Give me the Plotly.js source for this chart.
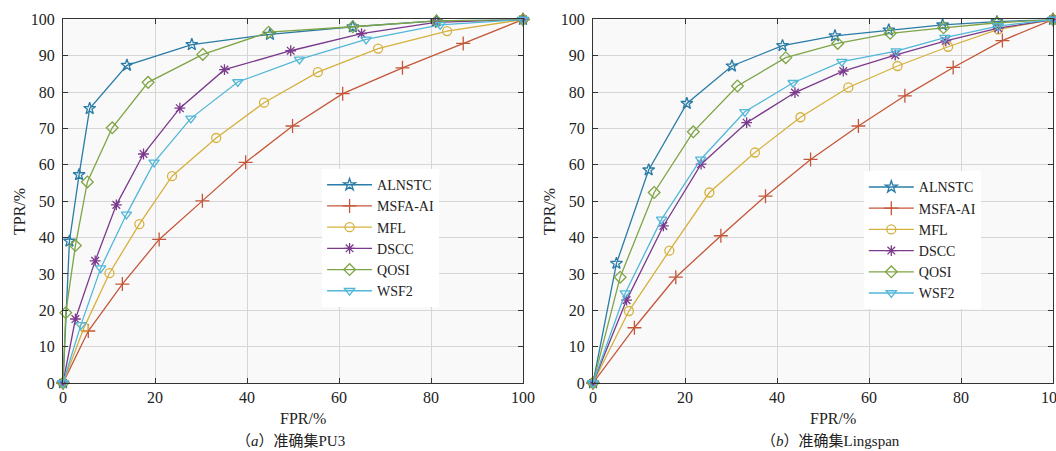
<!DOCTYPE html>
<html>
<head>
<meta charset="utf-8">
<script src="https://cdn.plot.ly/plotly-3.0.1.min.js"></script>
<style>html,body{margin:0;padding:0;background:#fff}#chart{width:1056px;height:451px}</style>
</head>
<body>
<div id="chart"></div>
<script>
// ---- data ----
const seriesNames = ['ALNSTC', 'MSFA-AI', 'MFL', 'DSCC', 'QOSI', 'WSF2'];
const panelCaptions = ['（<i>a</i>）准确集PU3', '（<i>b</i>）准确集Lingspan'];
const xTitle = 'FPR/%';
const yTitle = 'TPR/%';
const tickVals = [0, 20, 40, 60, 80, 100];
const yTickVals = [0, 10, 20, 30, 40, 50, 60, 70, 80, 90, 100];

// (a) PU3
const pu3_ALNSTC_fpr = [0, 1.4, 3.5, 5.8, 13.9, 28, 45, 63, 81.2, 100];
const pu3_ALNSTC_tpr = [0, 39, 57.3, 75.5, 87.4, 93.1, 95.9, 98, 99.6, 100];
const pu3_MSFA_fpr = [0, 5.5, 12.9, 20.9, 30.3, 39.7, 49.9, 60.8, 73.8, 87, 100];
const pu3_MSFA_tpr = [0, 14.3, 27.2, 39.5, 50.1, 60.7, 70.7, 79.6, 86.7, 93.4, 100];
const pu3_MFL_fpr = [0, 4.6, 10.1, 16.6, 23.7, 33.3, 43.7, 55.4, 68.5, 83.5, 100];
const pu3_MFL_tpr = [0, 15.3, 30.2, 43.7, 56.9, 67.4, 77.1, 85.5, 92, 96.8, 100];
const pu3_DSCC_fpr = [0, 2.7, 7.0, 11.6, 17.5, 25.4, 35.1, 49.5, 64.9, 81, 100];
const pu3_DSCC_tpr = [0, 17.6, 33.6, 49, 63, 75.6, 86.2, 91.4, 96.1, 99.2, 100];
const pu3_QOSI_fpr = [0, 0.6, 2.7, 5.3, 10.7, 18.5, 30.4, 44.7, 63, 81.2, 100];
const pu3_QOSI_tpr = [0, 19.3, 37.8, 55.3, 70.2, 82.7, 90.4, 96.5, 98, 99.6, 100];
const pu3_WSF2_fpr = [0, 3.9, 8.2, 13.8, 19.8, 27.8, 38, 51.4, 65.9, 82, 100];
const pu3_WSF2_tpr = [0, 16, 31.6, 46.4, 60.7, 72.8, 82.8, 89, 94.5, 98.5, 100];

// (b) Lingspan
const ling_ALNSTC_fpr = [0, 5.1, 12.1, 20.4, 30.2, 41.2, 52.6, 64.3, 76, 87.8, 100];
const ling_ALNSTC_tpr = [0, 32.9, 58.6, 76.9, 87.2, 92.8, 95.5, 97.1, 98.5, 99.4, 100];
const ling_MSFA_fpr = [0, 9, 18, 27.8, 37.5, 47.3, 57.7, 67.8, 78.3, 89, 100];
const ling_MSFA_tpr = [0, 15.2, 29.1, 40.5, 51.4, 61.5, 70.7, 79, 86.8, 94.2, 100];
const ling_MFL_fpr = [0, 7.8, 16.6, 25.3, 35.2, 45.1, 55.5, 66.2, 77.2, 88.1, 100];
const ling_MFL_tpr = [0, 19.8, 36.4, 52.4, 63.4, 73.1, 81.3, 87.2, 92.5, 97.3, 100];
const ling_DSCC_fpr = [0, 7.3, 15.3, 23.5, 33.4, 43.9, 54.4, 65.7, 76.7, 88.1, 100];
const ling_DSCC_tpr = [0, 22.8, 43.2, 60.2, 71.6, 79.9, 85.8, 90.2, 94.1, 97.6, 100];
const ling_QOSI_fpr = [0, 5.9, 13.3, 21.8, 31.4, 41.9, 53.2, 64.6, 76.2, 87.9, 100];
const ling_QOSI_tpr = [0, 29.1, 52.4, 69.1, 81.7, 89.5, 93.4, 96.2, 97.7, 99.1, 100];
const ling_WSF2_fpr = [0, 7, 14.9, 23.4, 33, 43.5, 54.1, 65.9, 76.5, 88.1, 100];
const ling_WSF2_tpr = [0, 24.7, 45, 61.5, 74.6, 82.6, 88.4, 91.3, 95, 98.2, 100];

// ---- styles ----
const colors = ['#2a7ca6', '#c4573a', '#d6b13e', '#7b3a8c', '#7fa445', '#52b7d8'];
const symbols = ['star-open', 'cross-thin-open', 'circle-open', 'asterisk-open', 'diamond-open', 'triangle-down-open'];
const sizes = [9, 10, 9, 9, 9, 9];

const pu3 = [[pu3_ALNSTC_fpr, pu3_ALNSTC_tpr], [pu3_MSFA_fpr, pu3_MSFA_tpr], [pu3_MFL_fpr, pu3_MFL_tpr],
             [pu3_DSCC_fpr, pu3_DSCC_tpr], [pu3_QOSI_fpr, pu3_QOSI_tpr], [pu3_WSF2_fpr, pu3_WSF2_tpr]];
const ling = [[ling_ALNSTC_fpr, ling_ALNSTC_tpr], [ling_MSFA_fpr, ling_MSFA_tpr], [ling_MFL_fpr, ling_MFL_tpr],
              [ling_DSCC_fpr, ling_DSCC_tpr], [ling_QOSI_fpr, ling_QOSI_tpr], [ling_WSF2_fpr, ling_WSF2_tpr]];

const traces = [];
[pu3, ling].forEach((panel, p) => {
  panel.forEach((xy, i) => {
    traces.push({
      type: 'scatter', mode: 'lines+markers',
      x: xy[0], y: xy[1], name: seriesNames[i],
      xaxis: p === 0 ? 'x' : 'x2', yaxis: p === 0 ? 'y' : 'y2',
      legend: p === 0 ? 'legend' : 'legend2',
      line: {color: colors[i], width: 1.3},
      marker: {symbol: symbols[i], size: sizes[i], color: colors[i], line: {color: colors[i], width: 1.3}},
      cliponaxis: false
    });
  });
});

const serif = '"Liberation Serif", "Times New Roman", serif';
const cjk = '"Liberation Serif", "Noto Sans CJK SC", serif';
const tickFont = {family: serif, size: 16, color: '#222'};

function xax(domain) {
  return {domain: domain, range: [0, 100], tickvals: tickVals, showgrid: true, gridcolor: '#d6d6d6',
    zeroline: false, showline: true, linecolor: '#333', linewidth: 1, mirror: 'ticks',
    ticks: 'inside', ticklen: 5, tickcolor: '#333', tickfont: tickFont, ticklabeloverflow: 'allow',
    fixedrange: true};
}
function yax(anchor) {
  return {domain: [0.1508, 0.9568], anchor: anchor, range: [0, 100], tickvals: yTickVals, showgrid: true,
    gridcolor: '#d6d6d6', zeroline: false, showline: true, linecolor: '#333', linewidth: 1, mirror: 'ticks',
    ticks: 'inside', ticklen: 5, tickcolor: '#333', tickfont: tickFont, ticklabelstandoff: 4,
    ticklabeloverflow: 'allow', fixedrange: true};
}

const legendCommon = {font: {family: serif, size: 14, color: '#222'}, bgcolor: '#ffffff', borderwidth: 0,
  itemwidth: 45, xanchor: 'left', yanchor: 'top', tracegroupgap: 0};

const annFont = {family: serif, size: 16, color: '#222'};
const layout = {
  width: 1056, height: 451,
  margin: {l: 0, r: 0, t: 0, b: 0},
  paper_bgcolor: '#ffffff', plot_bgcolor: '#f9f9f9',
  showlegend: true,
  xaxis: Object.assign(xax([63 / 1056, 523 / 1056]), {anchor: 'y'}),
  yaxis: yax('x'),
  xaxis2: Object.assign(xax([593 / 1056, 1053 / 1056]), {anchor: 'y2'}),
  yaxis2: yax('x2'),
  legend: Object.assign({x: 0.305, y: 0.625}, legendCommon),
  legend2: Object.assign({x: 0.818, y: 0.62}, legendCommon),
  annotations: [
    {text: xTitle, xref: 'paper', yref: 'paper', x: 303 / 1056, y: 1 - 418 / 451, yanchor: 'middle',
     xanchor: 'center', showarrow: false, font: annFont},
    {text: xTitle, xref: 'paper', yref: 'paper', x: 833 / 1056, y: 1 - 418 / 451, yanchor: 'middle',
     xanchor: 'center', showarrow: false, font: annFont},
    {text: yTitle, xref: 'paper', yref: 'paper', x: 19 / 1056, y: 1 - 212 / 451, yanchor: 'middle',
     xanchor: 'center', showarrow: false, textangle: -90, font: annFont},
    {text: yTitle, xref: 'paper', yref: 'paper', x: 549 / 1056, y: 1 - 212 / 451, yanchor: 'middle',
     xanchor: 'center', showarrow: false, textangle: -90, font: annFont},
    {text: panelCaptions[0], xref: 'paper', yref: 'paper', x: 290 / 1056, y: 1 - 441 / 451, yanchor: 'middle',
     xanchor: 'center', showarrow: false, font: {family: cjk, size: 15, color: '#222'}},
    {text: panelCaptions[1], xref: 'paper', yref: 'paper', x: 830 / 1056, y: 1 - 441 / 451, yanchor: 'middle',
     xanchor: 'center', showarrow: false, font: {family: cjk, size: 15, color: '#222'}}
  ]
};

Plotly.newPlot('chart', traces, layout, {displayModeBar: false, staticPlot: true});
</script>
</body>
</html>
